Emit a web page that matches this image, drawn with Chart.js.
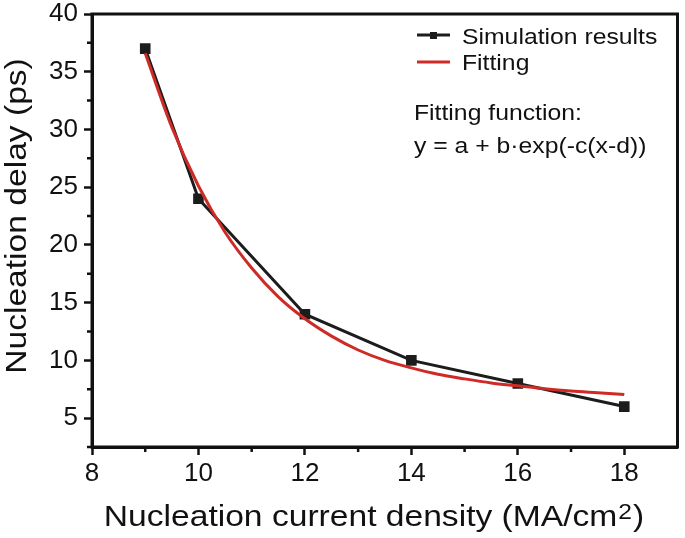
<!DOCTYPE html>
<html>
<head>
<meta charset="utf-8">
<script src="https://cdn.jsdelivr.net/npm/chart.js@4.4.1/dist/chart.umd.min.js"></script>
<style>
  body { margin: 0; background: #fff; }
  canvas { display: block; }
</style>
</head>
<body>
<canvas id="chart" width="685" height="538"></canvas>
<script>
// simulation points
const simX = [9, 10, 12, 14, 16, 18];
const simY = [37, 24, 14, 10, 8, 6];
// fitted curve
const fitX = [9, 9.5, 10, 10.5, 11, 11.5, 12, 12.5, 13, 13.5, 14, 14.5, 15, 15.5, 16, 16.5, 17, 17.5, 18];
const fitY = [36.6, 30.2, 25.1, 21.1, 18.0, 15.5, 13.6, 12.1, 10.9, 10.0, 9.35, 8.8, 8.4, 8.05, 7.8, 7.55, 7.35, 7.2, 7.05];
// axis ticks
const xTicks = [8, 10, 12, 14, 16, 18];
const xMinor = [9, 11, 13, 15, 17];
const yTicks = [5, 10, 15, 20, 25, 30, 35, 40];
const yMinor = [2.5, 7.5, 12.5, 17.5, 22.5, 27.5, 32.5, 37.5];

const FONT = "'Liberation Sans', Arial, sans-serif";
const RED = '#cf2b26';
const BLACK = '#1c1c1c';

// text is a bit wider than plain Arial in the original, so stretch it along its run
function wideText(ctx, txt, x, y, sx) {
  ctx.save();
  ctx.translate(x, y);
  ctx.scale(sx, 1);
  ctx.fillText(txt, 0, 0);
  ctx.restore();
}

const decor = {
  id: 'decor',
  afterDraw(chart) {
    const ctx = chart.ctx;
    const a = chart.chartArea;
    const xs = chart.scales.x, ys = chart.scales.y;
    ctx.save();
    // frame
    ctx.strokeStyle = '#111';
    ctx.lineWidth = 3;
    ctx.strokeRect(a.left, a.top, a.right - a.left, a.bottom - a.top);
    // minor ticks
    ctx.lineWidth = 2.5;
    ctx.beginPath();
    xMinor.forEach(v => {
      const px = xs.getPixelForValue(v);
      ctx.moveTo(px, a.bottom);
      ctx.lineTo(px, a.bottom + 5);
    });
    yMinor.forEach(v => {
      const py = ys.getPixelForValue(v);
      ctx.moveTo(a.left, py);
      ctx.lineTo(a.left - 5, py);
    });
    ctx.stroke();

    // axis titles
    const SX = 1.12;
    ctx.fillStyle = '#111';
    ctx.textBaseline = 'alphabetic';
    ctx.textAlign = 'left';
    const main = 'Nucleation current density (MA/cm';
    ctx.font = '30px ' + FONT;
    const w1 = ctx.measureText(main).width * SX;
    const w3 = ctx.measureText(')').width * SX;
    ctx.font = '22px ' + FONT;
    const w2 = ctx.measureText('2').width * SX;
    const x0 = 373 - (w1 + w2 + w3) / 2;
    ctx.font = '30px ' + FONT;
    wideText(ctx, main, x0, 526, SX);
    ctx.font = '22px ' + FONT;
    wideText(ctx, '2', x0 + w1 + 1, 519, SX);
    ctx.font = '30px ' + FONT;
    wideText(ctx, ')', x0 + w1 + w2 + 2, 526, SX);

    ctx.save();
    ctx.translate(26, 216);
    ctx.rotate(-Math.PI / 2);
    ctx.font = '30px ' + FONT;
    const wy = ctx.measureText('Nucleation delay (ps)').width * SX;
    wideText(ctx, 'Nucleation delay (ps)', -wy / 2, 0, SX);
    ctx.restore();

    // legend
    ctx.lineWidth = 3;
    ctx.strokeStyle = BLACK;
    ctx.beginPath();
    ctx.moveTo(417, 35);
    ctx.lineTo(450, 35);
    ctx.stroke();
    ctx.fillStyle = BLACK;
    ctx.fillRect(430, 32, 7, 7);
    ctx.strokeStyle = RED;
    ctx.beginPath();
    ctx.moveTo(417, 62);
    ctx.lineTo(450, 62);
    ctx.stroke();
    ctx.fillStyle = '#111';
    ctx.font = '22.5px ' + FONT;
    const LX = 1.1;
    wideText(ctx, 'Simulation results', 462, 44, LX);
    wideText(ctx, 'Fitting', 462, 70, LX);
    wideText(ctx, 'Fitting function:', 414, 120, LX);
    wideText(ctx, 'y = a + b\u00b7exp(-c(x-d))', 414, 153, LX);
    ctx.restore();
  }
};

new Chart(document.getElementById('chart'), {
  type: 'scatter',
  data: {
    datasets: [
      {
        label: 'Fitting',
        data: fitX.map((x, i) => ({ x: x, y: fitY[i] })),
        showLine: true,
        borderColor: RED,
        borderWidth: 3,
        pointRadius: 0,
        cubicInterpolationMode: 'monotone'
      },
      {
        label: 'Simulation results',
        data: simX.map((x, i) => ({ x: x, y: simY[i] })),
        showLine: true,
        borderColor: BLACK,
        borderWidth: 3,
        pointStyle: 'rect',
        pointRadius: 7.5,
        pointBackgroundColor: BLACK,
        pointBorderColor: BLACK,
        pointBorderWidth: 0
      }
    ]
  },
  options: {
    responsive: false,
    animation: false,
    layout: { padding: { left: 0, top: 14, right: 7, bottom: 0 } },
    plugins: {
      legend: { display: false },
      tooltip: { enabled: false }
    },
    scales: {
      x: {
        type: 'linear',
        min: 8,
        max: 19,
        afterBuildTicks: s => { s.ticks = xTicks.map(v => ({ value: v })); },
        afterFit: s => { s.height = 91; s.paddingLeft = 0; s.paddingRight = 0; },
        grid: { drawOnChartArea: false, drawTicks: true, tickLength: 8, tickColor: '#111', tickWidth: 2.5 },
        border: { display: true, color: '#111', width: 3 },
        ticks: { color: '#111', font: { family: FONT, size: 26 }, padding: 3, maxRotation: 0 }
      },
      y: {
        type: 'linear',
        min: 2.5,
        max: 40,
        afterBuildTicks: s => { s.ticks = yTicks.map(v => ({ value: v })); },
        afterFit: s => { s.width = 92; s.paddingTop = 0; s.paddingBottom = 0; },
        grid: { drawOnChartArea: false, drawTicks: true, tickLength: 8, tickColor: '#111', tickWidth: 2.5 },
        border: { display: true, color: '#111', width: 3 },
        ticks: { color: '#111', font: { family: FONT, size: 26 }, padding: 6 }
      }
    }
  },
  plugins: [decor]
});
</script>
</body>
</html>
